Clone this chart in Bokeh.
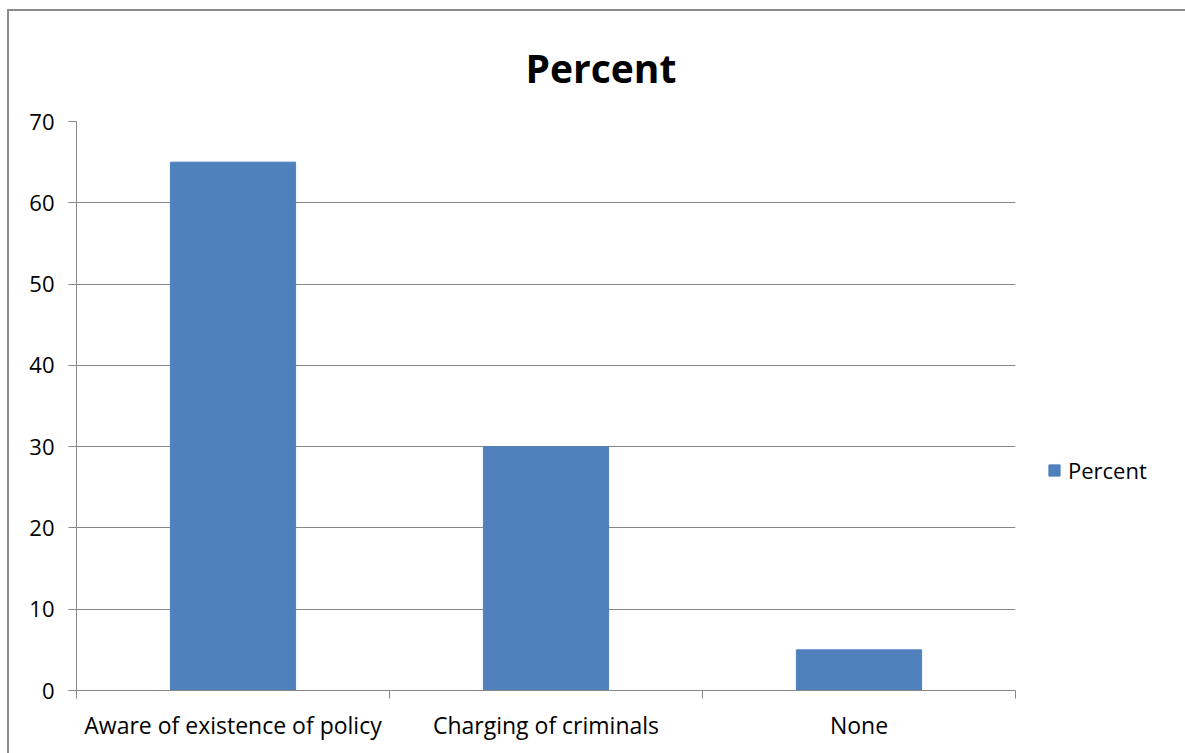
from bokeh.plotting import figure
from bokeh.models import (ColumnDataSource, FixedTicker, Legend, LegendItem, Range1d, Title)
from bokeh.embed import file_html
from bokeh.resources import INLINE

categories = ["Aware of existence of policy", "Charging of criminals", "None"]
percent = [65, 30, 5]
y_ticks = [0, 10, 20, 30, 40, 50, 60, 70]
series_name = "Percent"
chart_title = "Percent"

FONT = "Open Sans"
GRAY = "#878787"
BAR = "#4F81BD"

xpos = [i + 0.5 for i in range(len(categories))]
src = ColumnDataSource(dict(x=xpos, top=percent, cat=categories))

p = figure(frame_width=939, frame_height=569, output_backend="svg", toolbar_location=None,
           x_range=Range1d(0, len(categories)), y_range=Range1d(0, 70),
           min_border_left=67, min_border_right=170, min_border_top=110,
           min_border_bottom=63)
p.styles = {"margin-left": "7px", "margin-top": "9px",
            "border-left": "2px solid #8c8c8c", "border-top": "2px solid #8c8c8c"}
p.outline_line_color = None
p.background_fill_color = "white"
p.border_fill_color = "white"

r = p.vbar(x="x", top="top", width=0.4, bottom=0, source=src,
           fill_color=BAR, line_color=BAR)

t = Title(text=chart_title, align="left", offset=449, standoff=55,
          text_font=FONT, text_font_size="39px", text_font_style="bold", text_color="black")
p.add_layout(t, "above")

# y axis
p.yaxis.ticker = FixedTicker(ticks=y_ticks, minor_ticks=[])
p.yaxis.axis_line_color = GRAY
p.yaxis.major_tick_line_color = GRAY
p.yaxis.major_tick_out = 8
p.yaxis.major_tick_in = 0
p.yaxis.minor_tick_line_color = None
p.yaxis.major_label_text_font = FONT
p.yaxis.major_label_text_font_size = "22px"
p.yaxis.major_label_text_color = "black"
p.yaxis.major_label_standoff = 14

# x axis: labels at centres, ticks at boundaries
p.xaxis.ticker = FixedTicker(ticks=xpos, minor_ticks=list(range(len(categories) + 1)))
p.xaxis.major_label_overrides = {x: c for x, c in zip(xpos, categories)}
p.xaxis.axis_line_color = GRAY
p.xaxis.major_tick_line_color = None
p.xaxis.major_tick_out = 0
p.xaxis.major_tick_in = 0
p.xaxis.minor_tick_line_color = GRAY
p.xaxis.minor_tick_out = 8
p.xaxis.minor_tick_in = 0
p.xaxis.major_label_text_font = FONT
p.xaxis.major_label_text_font_size = "23px"
p.xaxis.major_label_text_color = "black"
p.xaxis.major_label_standoff = 10

p.xgrid.grid_line_color = None
p.ygrid.ticker = FixedTicker(ticks=y_ticks)
p.ygrid.grid_line_color = GRAY
p.ygrid.grid_line_width = 1

legend = Legend(items=[LegendItem(label=series_name, renderers=[r])],
                location=(32, 205), orientation="vertical",
                glyph_width=14, glyph_height=14, label_text_font=FONT,
                label_text_font_size="22px", label_standoff=7, label_text_color="black",
                padding=0, margin=0, border_line_color=None,
                background_fill_alpha=0, spacing=0)
p.add_layout(legend, "right")

open("out.html", "w").write(file_html(p, INLINE))
